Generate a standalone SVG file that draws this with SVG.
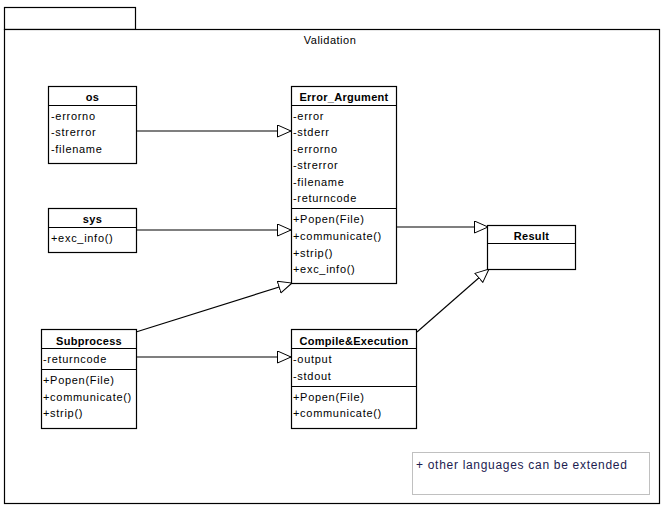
<svg xmlns="http://www.w3.org/2000/svg" width="664" height="509" viewBox="0 0 664 509">
<defs>
<style>
.box{fill:#fff;stroke:#000;stroke-width:1.2}
.ln{stroke:#000;stroke-width:1.2;fill:none}
.t{font-family:"Liberation Sans",Arial,sans-serif;font-size:11px;fill:#000;letter-spacing:0.7px}
.b{font-weight:bold;text-anchor:middle;letter-spacing:0.3px}
.con{stroke:#000;stroke-width:1.1;fill:none;marker-end:url(#tri)}
</style>
<marker id="tri" markerUnits="userSpaceOnUse" markerWidth="16" markerHeight="14" refX="14" refY="6.5" orient="auto" viewBox="0 0 16 14">
<path d="M0.5,0.5 L14,6.5 L0.5,12.5 Z" fill="#fff" stroke="#000" stroke-width="1"/>
</marker>
</defs>
<rect width="664" height="509" fill="#fff"/>
<g id="package">
<rect class="box" x="4.5" y="7.5" width="131" height="22"/>
<rect class="box" x="4.5" y="29.5" width="655" height="474"/>
<text class="t" x="330" y="44" text-anchor="middle" style="letter-spacing:0.5px">Validation</text>
</g>
<g id="connectors">
<line class="con" x1="136" y1="131" x2="291" y2="131"/>
<line class="con" x1="136" y1="230" x2="291" y2="230"/>
<line class="con" x1="136" y1="332" x2="292" y2="283"/>
<line class="con" x1="136" y1="357" x2="291" y2="357"/>
<line class="con" x1="396" y1="227" x2="488" y2="227"/>
<line class="con" x1="417" y1="332" x2="489" y2="269"/>
</g>
<g id="os">
<rect class="box" x="48.5" y="86.5" width="88" height="77"/>
<line class="ln" x1="48.5" y1="105.5" x2="136.5" y2="105.5"/>
<text class="t b" x="92.5" y="101">os</text>
<text class="t" x="51" y="120">-errorno</text>
<text class="t" x="51" y="136">-strerror</text>
<text class="t" x="51" y="153">-filename</text>
</g>
<g id="sys">
<rect class="box" x="48.5" y="208.5" width="88" height="44"/>
<line class="ln" x1="48.5" y1="227.5" x2="136.5" y2="227.5"/>
<text class="t b" x="92.5" y="223">sys</text>
<text class="t" x="51" y="242">+exc_info()</text>
</g>
<g id="error_argument">
<rect class="box" x="291.5" y="86.5" width="105" height="197"/>
<line class="ln" x1="291.5" y1="105.5" x2="396.5" y2="105.5"/>
<line class="ln" x1="291.5" y1="208.5" x2="396.5" y2="208.5"/>
<text class="t b" x="344" y="101">Error_Argument</text>
<text class="t" x="293" y="120">-error</text>
<text class="t" x="293" y="136">-stderr</text>
<text class="t" x="293" y="153">-errorno</text>
<text class="t" x="293" y="169">-strerror</text>
<text class="t" x="293" y="186">-filename</text>
<text class="t" x="293" y="202">-returncode</text>
<text class="t" x="293" y="223">+Popen(File)</text>
<text class="t" x="293" y="240">+communicate()</text>
<text class="t" x="293" y="257">+strip()</text>
<text class="t" x="293" y="273">+exc_info()</text>
</g>
<g id="result">
<rect class="box" x="487.5" y="225.5" width="88" height="44"/>
<line class="ln" x1="487.5" y1="243.5" x2="575.5" y2="243.5"/>
<text class="t b" x="531.5" y="240">Result</text>
</g>
<g id="subprocess">
<rect class="box" x="41.5" y="329.5" width="95" height="99"/>
<line class="ln" x1="41.5" y1="348.5" x2="136.5" y2="348.5"/>
<line class="ln" x1="41.5" y1="369.5" x2="136.5" y2="369.5"/>
<text class="t b" x="89" y="345">Subprocess</text>
<text class="t" x="43" y="363">-returncode</text>
<text class="t" x="43" y="384">+Popen(File)</text>
<text class="t" x="43" y="401">+communicate()</text>
<text class="t" x="43" y="417">+strip()</text>
</g>
<g id="compile_execution">
<rect class="box" x="291.5" y="329.5" width="125" height="99"/>
<line class="ln" x1="291.5" y1="348.5" x2="416.5" y2="348.5"/>
<line class="ln" x1="291.5" y1="386.5" x2="416.5" y2="386.5"/>
<text class="t b" x="354" y="345">Compile&amp;Execution</text>
<text class="t" x="293" y="363">-output</text>
<text class="t" x="293" y="380">-stdout</text>
<text class="t" x="293" y="401">+Popen(File)</text>
<text class="t" x="293" y="417">+communicate()</text>
</g>
<g id="note">
<rect x="412.5" y="452.5" width="237" height="42" fill="#fff" stroke="#c0c0c0" stroke-width="1"/>
<text class="t" x="416" y="469" style="fill:#1c1c50;font-size:12px;letter-spacing:0.7px">+ other languages can be extended</text>
</g>
</svg>
